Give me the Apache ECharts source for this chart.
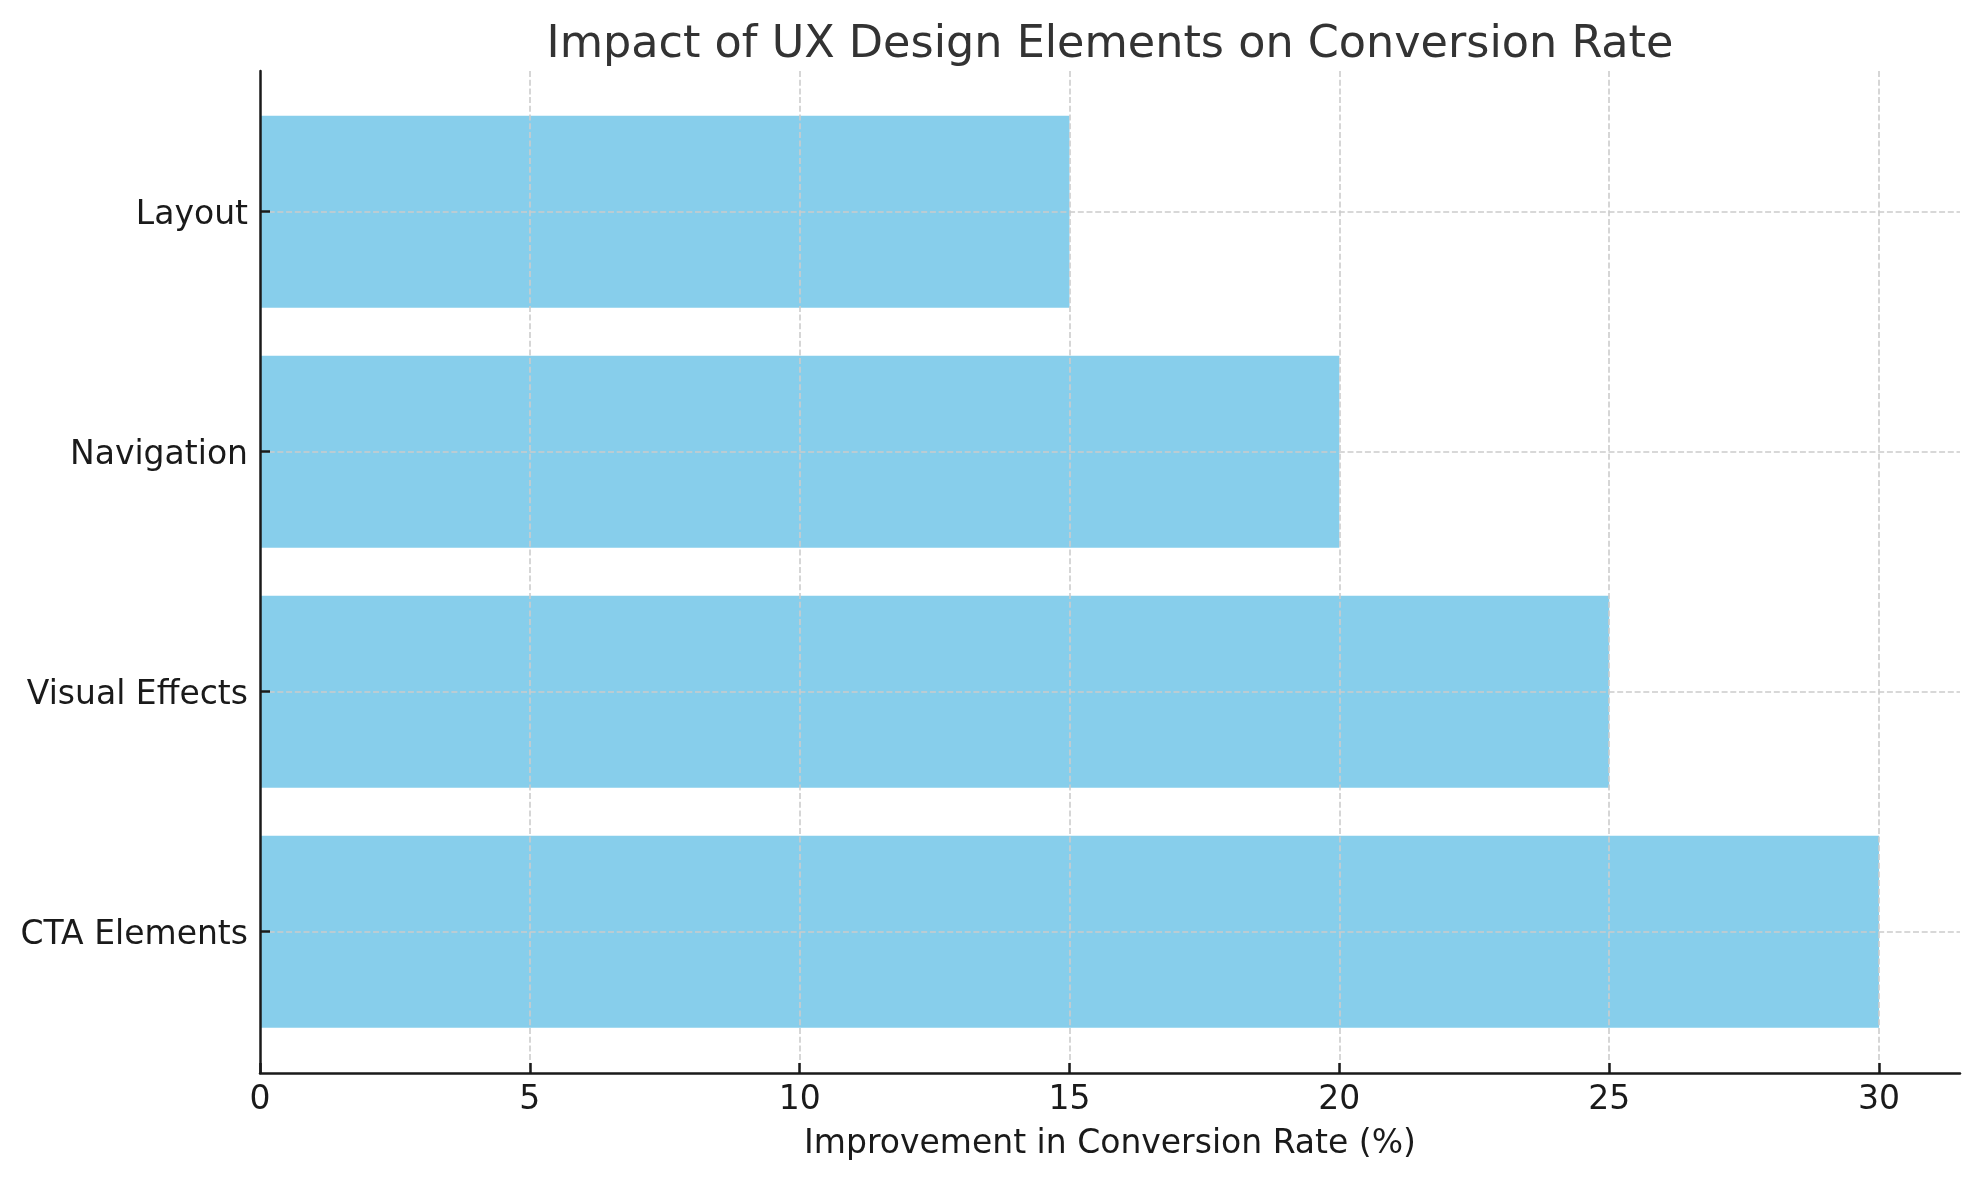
<!DOCTYPE html>
<html>
<head>
<meta charset="utf-8">
<script src="https://cdn.jsdelivr.net/npm/echarts@6/dist/echarts.min.js"></script>
<style>
html,body{margin:0;padding:0;background:#fff;}
#chart{width:1979px;height:1180px;}
</style>
</head>
<body>
<div id="chart"></div>
<script>
var categories = ['CTA Elements', 'Visual Effects', 'Navigation', 'Layout'];
var values = [30, 25, 20, 15];
var xTicks = [0, 5, 10, 15, 20, 25, 30];
var titleText = 'Impact of UX Design Elements on Conversion Rate';
var xName = 'Improvement in Conversion Rate (%)';

var FONT = 'DejaVu Sans';
var DARK = '#1a1a1a';
var gridLine = { color: '#cccccc', width: 1.6, type: [6, 2.7] };

var chart = echarts.init(document.getElementById('chart'), null, { renderer: 'canvas' });
chart.setOption({
  backgroundColor: '#ffffff',
  animation: false,
  title: {
    text: titleText,
    left: 1105,
    textAlign: 'center',
    top: 18,
    textStyle: { fontFamily: FONT, fontSize: 44.5, fontWeight: 'normal', color: '#333333' }
  },
  grid: [
    { left: 260, right: 19, top: 71, bottom: 107, outerBoundsMode: 'none', containLabel: false },
    { left: 260, right: 19, top: 211.7, bottom: 248.3, outerBoundsMode: 'none', containLabel: false },
    { left: 260, right: 100, top: 71, bottom: 107, outerBoundsMode: 'none', containLabel: false }
  ],
  xAxis: [
    {
      gridIndex: 0, type: 'value', min: 0, max: 31.5, interval: 5, z: 5,
      name: xName, nameLocation: 'middle', nameGap: 55,
      nameTextStyle: { fontFamily: FONT, fontSize: 33, color: DARK },
      axisLine: { show: true, lineStyle: { color: DARK, width: 2.5 } },
      axisTick: { show: true, inside: true, length: 10, customValues: xTicks, lineStyle: { color: DARK, width: 2.5 } },
      axisLabel: { show: true, margin: 11, customValues: xTicks, fontFamily: FONT, fontSize: 33, color: DARK },
      splitLine: { show: false }
    },
    {
      gridIndex: 1, type: 'value', min: 0, max: 31.5, show: false
    },
    {
      gridIndex: 2, type: 'value', min: 0, max: 30, interval: 5, z: 4,
      axisLine: { show: false }, axisTick: { show: false }, axisLabel: { show: false },
      splitLine: { show: true, showMinLine: false, showMaxLine: true, lineStyle: gridLine }
    }
  ],
  yAxis: [
    {
      gridIndex: 0, type: 'value', min: 0, max: 1, z: 6,
      axisLine: { show: true, lineStyle: { color: DARK, width: 2.5 } },
      axisTick: { show: false }, axisLabel: { show: false }, splitLine: { show: false }
    },
    {
      gridIndex: 1, type: 'category', data: categories, boundaryGap: false, z: 5,
      axisLine: { show: false },
      axisTick: { show: true, inside: true, length: 10, lineStyle: { color: DARK, width: 2.5 } },
      axisLabel: { show: true, margin: 12, verticalAlign: 'top', lineHeight: 7, fontFamily: FONT, fontSize: 33, color: DARK },
      splitLine: { show: true, lineStyle: gridLine }
    },
    {
      gridIndex: 2, type: 'value', min: 0, max: 1, show: false
    }
  ],
  series: [
    {
      type: 'bar', xAxisIndex: 1, yAxisIndex: 1, data: values,
      barWidth: 192, clip: false, z: 2,
      itemStyle: { color: '#87CEEB' }
    }
  ]
});
</script>
</body>
</html>
